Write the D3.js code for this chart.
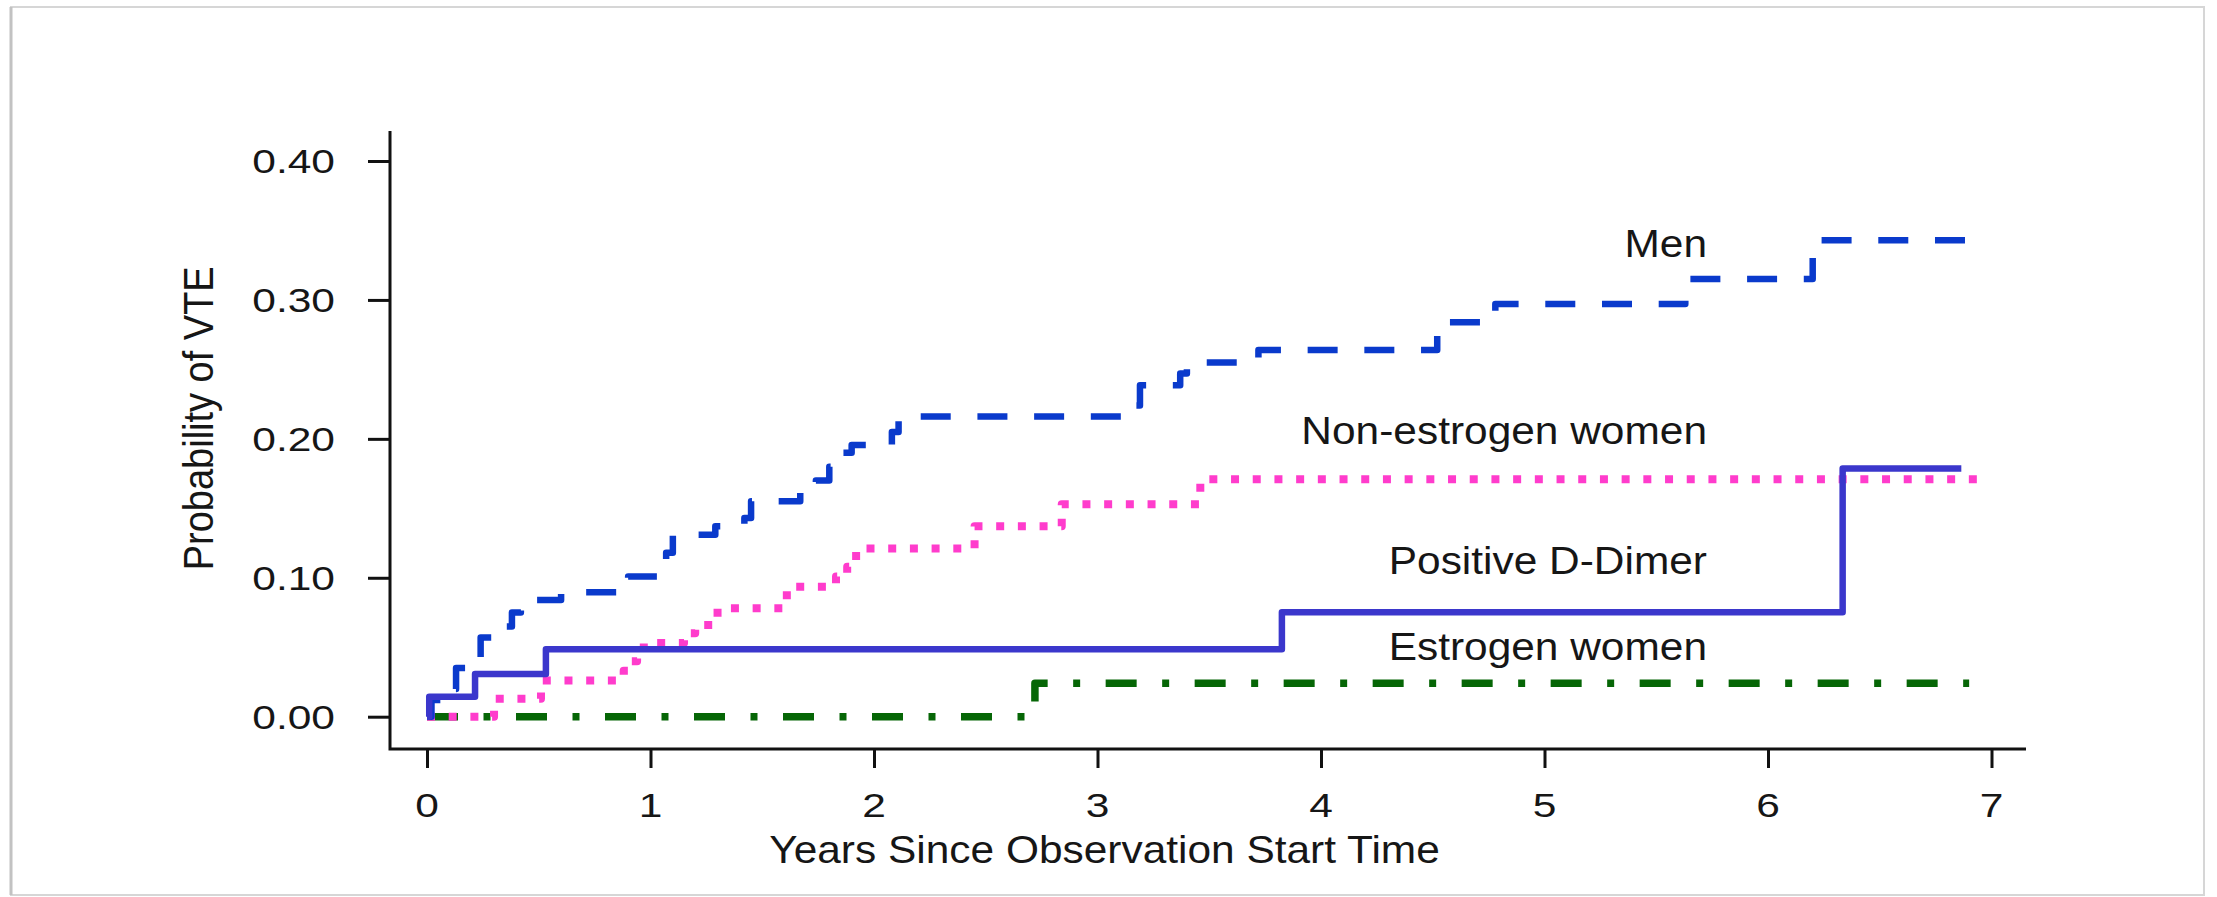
<!DOCTYPE html>
<html>
<head>
<meta charset="utf-8">
<script src="https://cdn.jsdelivr.net/npm/d3@7"></script>
<style>
html, body { margin: 0; padding: 0; background: #fff; }
svg { display: block; }
text { font-family: "Liberation Sans", Arial, Helvetica, sans-serif; fill: #161616; }
</style>
</head>
<body>
<svg id="chart"></svg>
<script>
var W = 2217, H = 897;

// tick values / labels
var xTicks = [0, 1, 2, 3, 4, 5, 6, 7];
var yTicks = [0, 0.1, 0.2, 0.3, 0.4];
var yTickLabels = ["0.00", "0.10", "0.20", "0.30", "0.40"];

// step curves (time in years, cumulative probability)
var menTimes = [0, 0.02, 0.1, 0.13, 0.2, 0.24, 0.34, 0.38, 0.42, 0.6, 0.86, 0.9, 1.03, 1.07, 1.1, 1.29, 1.42, 1.45, 1.67, 1.74, 1.8, 1.86, 1.9, 2.08, 2.11, 3.14, 3.19, 3.37, 3.4, 3.72, 4.52, 4.55, 4.78, 5.63, 6.2];
var menProb  = [0, 0.012, 0.02, 0.035, 0.043, 0.057, 0.065, 0.075, 0.084, 0.0895, 0.096, 0.101, 0.108, 0.118, 0.131, 0.137, 0.143, 0.155, 0.162, 0.17, 0.18, 0.19, 0.1955, 0.205, 0.216, 0.224, 0.2386, 0.247, 0.255, 0.264, 0.275, 0.284, 0.297, 0.315, 0.343];
var menEnd = 6.9;

var nonEstTimes = [0, 0.3, 0.51, 0.88, 0.91, 0.94, 0.97, 1.15, 1.2, 1.3, 1.61, 1.83, 1.88, 1.92, 2.45, 2.84, 3.46];
var nonEstProb  = [0, 0.013, 0.026, 0.033, 0.04, 0.047, 0.053, 0.06, 0.066, 0.078, 0.0935, 0.101, 0.108, 0.121, 0.137, 0.153, 0.171];
var nonEstEnd = 6.97;

var dimerTimes = [0, 0.01, 0.215, 0.532, 3.825, 6.334];
var dimerProb  = [0, 0.0144, 0.0307, 0.0485, 0.0751, 0.1787];
var dimerEnd = 6.865;

var estTimes = [0, 2.72];
var estProb  = [0, 0.024];
var estEnd = 6.9;

var labels = ["Men", "Non-estrogen women", "Positive D-Dimer", "Estrogen women"];

var svg = d3.select("#chart").attr("width", W).attr("height", H);

// picture frame
svg.append("rect").attr("x", 11).attr("y", 7).attr("width", 2193).attr("height", 888)
  .attr("fill", "#fff").attr("stroke", "#d6d6d6").attr("stroke-width", 2);
svg.append("line").attr("x1", 11).attr("x2", 11).attr("y1", 7).attr("y2", 895)
  .attr("stroke", "#c2c2c2").attr("stroke-width", 3);

var x = d3.scaleLinear().domain([0, 7]).range([427, 1991.5]);
var y = d3.scaleLinear().domain([0, 0.4]).range([716.7, 161]);

var boxLeft = 390, boxBottom = 749, boxTop = 131, boxRight = 2026;

// L shaped box
svg.append("path")
  .attr("d", "M" + boxLeft + "," + boxTop + "V" + boxBottom + "H" + boxRight)
  .attr("fill", "none").attr("stroke", "#111").attr("stroke-width", 3);

// axes (ticks only, labels drawn below)
svg.append("g").attr("transform", "translate(" + boxLeft + ",0)")
  .call(d3.axisLeft(y).tickValues(yTicks).tickSize(22).tickFormat(""))
  .call(g => g.select(".domain").remove())
  .selectAll("line").attr("stroke", "#111").attr("stroke-width", 3);

svg.append("g").attr("transform", "translate(0," + boxBottom + ")")
  .call(d3.axisBottom(x).tickValues(xTicks).tickSize(19).tickFormat(""))
  .call(g => g.select(".domain").remove())
  .selectAll("line").attr("stroke", "#111").attr("stroke-width", 3);

var tickFont = 34, tickSx = 1.25;
svg.append("g").selectAll("text").data(yTicks).join("text")
  .attr("text-anchor", "end")
  .attr("font-size", tickFont)
  .attr("transform", (d) => "translate(335," + (y(d) + 12) + ") scale(" + tickSx + ",1)")
  .text((d, i) => yTickLabels[i]);

svg.append("g").selectAll("text").data(xTicks).join("text")
  .attr("text-anchor", "middle")
  .attr("font-size", tickFont)
  .attr("transform", (d) => "translate(" + x(d) + ",816.5) scale(" + tickSx + ",1)")
  .text((d) => d);

var labFont = 38, labSx = 1.117;
svg.append("text")
  .attr("text-anchor", "middle").attr("font-size", labFont)
  .attr("transform", "translate(1104.5,863) scale(" + labSx + ",1)")
  .text("Years Since Observation Start Time");

svg.append("text")
  .attr("text-anchor", "middle").attr("font-size", labFont)
  .attr("transform", "translate(213,418.3) scale(" + labSx + ",1) rotate(-90)")
  .text("Probability of VTE");

// curves
function steps(times, probs, end) {
  var pts = times.map((t, i) => [t, probs[i]]);
  pts.push([end, probs[probs.length - 1]]);
  return pts;
}

var line = d3.line().x(d => x(d[0])).y(d => y(d[1])).curve(d3.curveStepAfter);

var series = [
  { pts: steps(estTimes, estProb, estEnd), color: "#066606", width: 7.5, dash: "31,25.5,7,25.5" },
  { pts: steps(nonEstTimes, nonEstProb, nonEstEnd), color: "#ff3ccc", width: 8, dash: "8,13.7" },
  { pts: steps(menTimes, menProb, menEnd), color: "#0a3acc", width: 6.5, dash: "30,26.7" },
  { pts: steps(dimerTimes, dimerProb, dimerEnd), color: "#3b37cc", width: 6.5, dash: null }
];

svg.append("g").selectAll("path").data(series).join("path")
  .attr("d", d => line(d.pts))
  .attr("fill", "none")
  .attr("stroke", d => d.color)
  .attr("stroke-width", d => d.width)
  .attr("stroke-dasharray", d => d.dash)
  .attr("stroke-linejoin", "round");

// curve labels, right aligned
var labelBase = [256.7, 444, 574, 660];
svg.append("g").selectAll("text").data(labels).join("text")
  .attr("text-anchor", "end")
  .attr("font-size", labFont)
  .attr("transform", (d, i) => "translate(1707," + labelBase[i] + ") scale(" + labSx + ",1)")
  .text(d => d);
</script>
</body>
</html>
